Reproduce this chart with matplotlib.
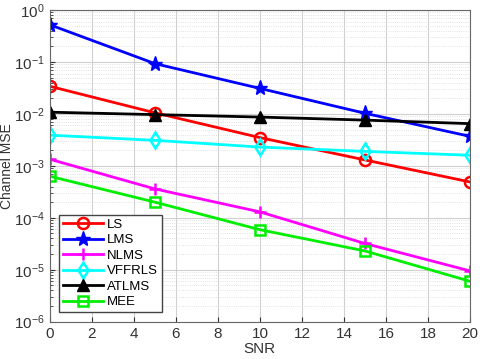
import matplotlib
matplotlib.use("Agg")
import matplotlib.pyplot as plt

plt.rcParams['font.family'] = ['Liberation Sans', 'DejaVu Sans']

snr = [0, 5, 10, 15, 20]
ls_mse = [0.034, 0.0105, 0.0035, 0.0013, 0.00049]
lms_mse = [0.52, 0.093, 0.031, 0.0103, 0.0037]
nlms_mse = [0.00134, 0.00036, 0.00013, 3.2e-5, 9.5e-6]
vffrls_mse = [0.0039, 0.0031, 0.0023, 0.0019, 0.0016]
atlms_mse = [0.0108, 0.0097, 0.0087, 0.0076, 0.0065]
mee_mse = [0.00063, 0.0002, 5.9e-5, 2.3e-5, 6e-6]

fig = plt.figure(figsize=(4.8, 3.59), dpi=100)
ax = fig.add_axes([0.104, 0.104, 0.875, 0.868])

ax.semilogy(snr, ls_mse, color="red", marker="o", mfc="none", mew=1.8, ms=8, lw=2, label="LS")
ax.semilogy(snr, lms_mse, color="blue", marker="*", ms=11, lw=2, label="LMS")
ax.semilogy(snr, nlms_mse, color="magenta", marker="+", mew=1.8, ms=8, lw=2, label="NLMS")
ax.semilogy(snr, vffrls_mse, color="cyan", marker="d", mfc="none", mew=1.8, ms=8, lw=2, label="VFFRLS")
ax.semilogy(snr, atlms_mse, color="black", marker="^", ms=8, lw=2, label="ATLMS")
ax.semilogy(snr, mee_mse, color="#00ee00", marker="s", mfc="none", mew=1.8, ms=7, lw=2, label="MEE")

ax.set_xlim(0, 20)
ax.set_ylim(1e-6, 1)
ax.set_xticks(range(0, 21, 2))
ax.grid(which="major", color="#d0d0d0", lw=0.8)
ax.grid(which="minor", color="#d8d8d8", lw=0.6, ls=":")
ax.tick_params(labelsize=11, colors="#333333", direction="in", which="both")
for s in ax.spines.values():
    s.set_color("#666666")

ax.set_xlabel("SNR", fontsize=11, color="#333333", labelpad=1)
ax.set_ylabel("Channel MSE", fontsize=10, color="#333333", labelpad=0)

leg = ax.legend(loc="lower left", fontsize=9.5, fancybox=False, edgecolor="#444444",
                borderaxespad=0.7, handlelength=3.0, labelspacing=0.25,
                borderpad=0.3, handletextpad=0.3, framealpha=1)
leg.get_frame().set_linewidth(1.0)

fig.savefig("out.png", dpi=100)
